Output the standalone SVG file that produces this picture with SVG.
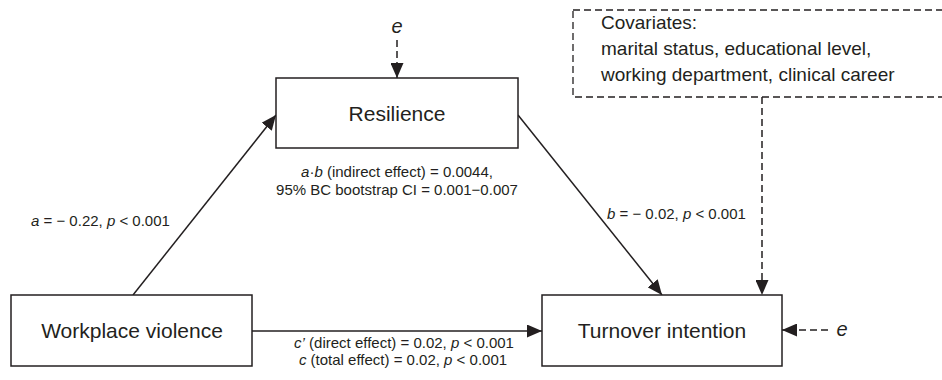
<svg xmlns="http://www.w3.org/2000/svg" width="942" height="380" viewBox="0 0 942 380">
<style>
.box{fill:#fff;stroke:#231f20;stroke-width:1.5}
.dbox{fill:none;stroke:#231f20;stroke-width:1.3;stroke-dasharray:7 4}
.ln{stroke:#231f20;stroke-width:1.5;fill:none}
.dl{stroke:#231f20;stroke-width:1.5;fill:none;stroke-dasharray:7 4}
text{font-family:"Liberation Sans",Arial,sans-serif;fill:#231f20}
.node{font-size:21px;text-anchor:middle}
.lbl{font-size:15px}
.cov{font-size:19px}
.it{font-style:italic}
</style>
<defs>
<marker id="ah" markerUnits="userSpaceOnUse" markerWidth="15" markerHeight="13" refX="15" refY="6.5" orient="auto">
<path d="M0,0 L15,6.5 L0,13 z" fill="#231f20"/>
</marker>
</defs>
<g id="connectors">
<line class="ln" x1="133" y1="295" x2="276" y2="115" marker-end="url(#ah)"/>
<line class="ln" x1="518" y1="115" x2="662" y2="295" marker-end="url(#ah)"/>
<line class="ln" x1="252" y1="331" x2="542" y2="331" marker-end="url(#ah)"/>
<line class="dl" x1="762" y1="97" x2="762" y2="295" marker-end="url(#ah)"/>
<line class="dl" x1="397" y1="40" x2="397" y2="78" marker-end="url(#ah)"/>
<line class="dl" x1="828" y1="330" x2="782" y2="330" marker-end="url(#ah)"/>
</g>
<g id="workplace-violence">
<rect class="box" x="11" y="295" width="241" height="71"/>
<text class="node" x="132" y="338">Workplace violence</text>
</g>
<g id="resilience">
<rect class="box" x="276" y="78" width="242" height="70"/>
<text class="node" x="397" y="121">Resilience</text>
</g>
<g id="turnover-intention">
<rect class="box" x="542" y="295" width="240" height="71"/>
<text class="node" x="662" y="338">Turnover intention</text>
</g>
<g id="covariates">
<rect class="dbox" x="573" y="10" width="390" height="87"/>
<text class="cov" x="601" y="29">Covariates:</text>
<text class="cov" x="601" y="55">marital status, educational level,</text>
<text class="cov" x="601" y="81">working department, clinical career</text>
</g>
<g id="e-resilience">
<text class="it" x="397" y="33" font-size="20" text-anchor="middle">e</text>
</g>
<g id="e-turnover">
<text class="it" x="842" y="336" font-size="20" text-anchor="middle">e</text>
</g>
<g id="labels">
<text class="lbl" x="31" y="226"><tspan class="it">a</tspan> = − 0.22, <tspan class="it">p</tspan> &lt; 0.001</text>
<text class="lbl" x="397" y="177" text-anchor="middle"><tspan class="it">a</tspan>·<tspan class="it">b</tspan> (indirect effect) = 0.0044,</text>
<text class="lbl" x="397" y="195" text-anchor="middle">95% BC bootstrap CI = 0.001−0.007</text>
<text class="lbl" x="607" y="219"><tspan class="it">b</tspan> = − 0.02, <tspan class="it">p</tspan> &lt; 0.001</text>
<text class="lbl" x="404" y="348" text-anchor="middle"><tspan class="it">c’</tspan> (direct effect) = 0.02, <tspan class="it">p</tspan> &lt; 0.001</text>
<text class="lbl" x="403" y="365" text-anchor="middle"><tspan class="it">c</tspan> (total effect) = 0.02, <tspan class="it">p</tspan> &lt; 0.001</text>
</g>
</svg>
